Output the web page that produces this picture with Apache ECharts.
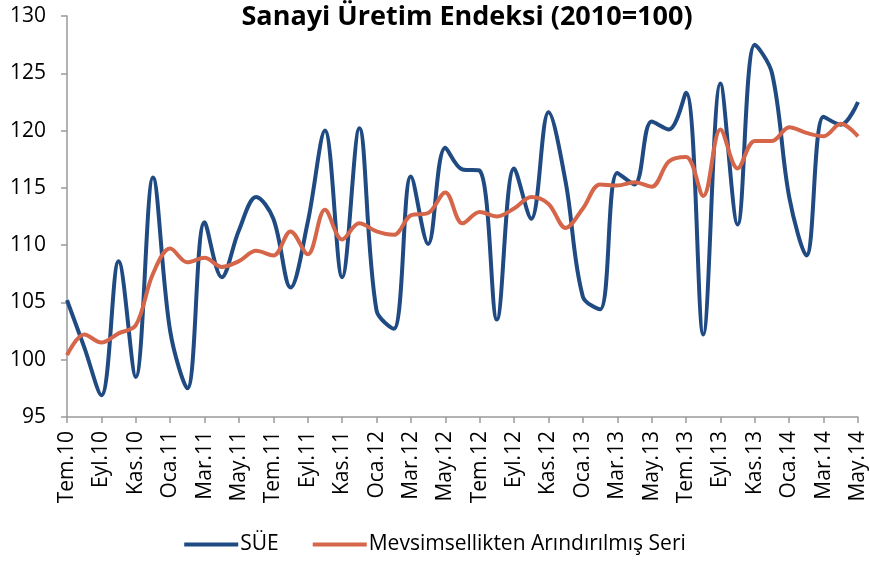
<!DOCTYPE html>
<html>
<head>
<meta charset="utf-8">
<script src="https://cdn.jsdelivr.net/npm/echarts@6/dist/echarts.min.js"></script>
<style>
  html, body { margin: 0; padding: 0; background: #fff; }
  #main { width: 870px; height: 563px; }
</style>
</head>
<body>
<div id="main"></div>
<script>
// aylar: Tem.10 - May.14
var months = ['Tem.10','Ağu.10','Eyl.10','Eki.10','Kas.10','Ara.10',
  'Oca.11','Şub.11','Mar.11','Nis.11','May.11','Haz.11','Tem.11','Ağu.11','Eyl.11','Eki.11','Kas.11','Ara.11',
  'Oca.12','Şub.12','Mar.12','Nis.12','May.12','Haz.12','Tem.12','Ağu.12','Eyl.12','Eki.12','Kas.12','Ara.12',
  'Oca.13','Şub.13','Mar.13','Nis.13','May.13','Haz.13','Tem.13','Ağu.13','Eyl.13','Eki.13','Kas.13','Ara.13',
  'Oca.14','Şub.14','Mar.14','Nis.14','May.14'];

// SÜE
var sue = [105.2, 101.1, 96.9, 108.6, 98.5, 115.9,
  102.5, 97.5, 112.0, 107.2, 111.3, 114.2, 112.3, 106.3, 112.0, 120.0, 107.2, 120.2,
  104.3, 102.7, 116.0, 110.1, 118.5, 116.6, 116.5, 103.5, 116.7, 112.3, 121.6, 115.5,
  105.5, 104.4, 116.3, 115.3, 120.8, 120.1, 123.3, 102.2, 124.1, 111.8, 127.5, 125.0,
  114.2, 109.1, 121.2, 120.5, 122.5];

// mevsimsellikten arındırılmış
var sa = [100.4, 102.2, 101.5, 102.3, 103.0, 107.5,
  109.7, 108.5, 108.9, 108.1, 108.6, 109.5, 109.1, 111.2, 109.2, 113.1, 110.5, 111.9,
  111.2, 110.9, 112.6, 112.8, 114.6, 111.9, 112.9, 112.5, 113.2, 114.2, 113.6, 111.5,
  113.2, 115.3, 115.2, 115.5, 115.1, 117.3, 117.7, 114.3, 120.1, 116.7, 119.1, 119.1,
  120.3, 119.8, 119.5, 120.6, 119.5];

var yTicks = { min: 95, max: 130, step: 5 };

var chart = echarts.init(document.getElementById('main'));
var fontFam = '"Open Sans", "DejaVu Sans", sans-serif';

chart.setOption({
  animation: false,
  textStyle: { fontFamily: fontFam },
  title: {
    text: 'Sanayi Üretim Endeksi (2010=100)',
    left: 462,
    top: -1,
    textAlign: 'center',
    textStyle: { fontSize: 27, fontWeight: 'bold', color: '#000', fontFamily: fontFam }
  },
  legend: {
    bottom: 3,
    left: 'center',
    itemWidth: 54,
    itemHeight: 4,
    itemGap: 34,
    icon: 'rect',
    textStyle: { fontSize: 21, color: '#000', fontFamily: fontFam, padding: [0, 0, 0, -3] },
    data: ['SÜE', 'Mevsimsellikten Arındırılmış Seri']
  },
  grid: { left: 67, right: 12, top: 16, bottom: 146, containLabel: false },
  xAxis: {
    type: 'category',
    boundaryGap: false,
    data: months,
    axisLine: { lineStyle: { color: '#9a9a9a', width: 1.5 } },
    axisTick: { interval: 1, length: 6, lineStyle: { color: '#9a9a9a', width: 1.5 } },
    axisLabel: { interval: 1, rotate: 90, fontSize: 21, color: '#000', margin: 14, fontFamily: fontFam }
  },
  yAxis: {
    type: 'value',
    min: yTicks.min,
    max: yTicks.max,
    interval: yTicks.step,
    splitLine: { show: false },
    axisLine: { show: true, lineStyle: { color: '#9a9a9a', width: 1.5 } },
    axisTick: { show: true, length: 6, lineStyle: { color: '#9a9a9a', width: 1.5 } },
    axisLabel: { fontSize: 21, color: '#000', margin: 21, fontFamily: fontFam }
  },
  series: [
    {
      name: 'SÜE',
      type: 'line',
      data: sue,
      smooth: 0.35,
      showSymbol: false,
      itemStyle: { color: '#1f4a82' },
      lineStyle: { color: '#1f4a82', width: 4 }
    },
    {
      name: 'Mevsimsellikten Arındırılmış Seri',
      type: 'line',
      data: sa,
      smooth: 0.35,
      showSymbol: false,
      itemStyle: { color: '#d5664a' },
      lineStyle: { color: '#d5664a', width: 4 }
    }
  ]
});
</script>
</body>
</html>
